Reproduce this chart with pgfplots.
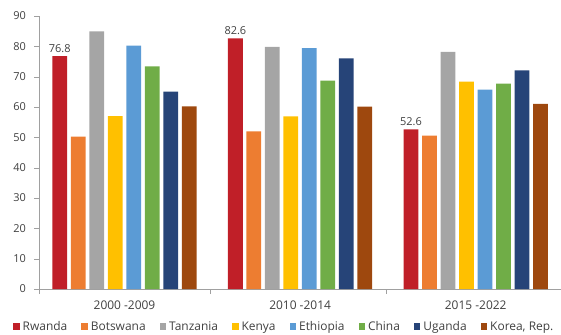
\documentclass[border=0pt]{standalone}
\usepackage{pgfplots}
\pgfplotsset{compat=1.18}
\usepackage{fontspec}
\setmainfont{Open Sans}
\definecolor{cRw}{HTML}{C01F28}
\definecolor{cBo}{HTML}{ED7D31}
\definecolor{cTa}{HTML}{A5A5A5}
\definecolor{cKe}{HTML}{FFC000}
\definecolor{cEt}{HTML}{5B9BD5}
\definecolor{cCh}{HTML}{70AD47}
\definecolor{cUg}{HTML}{264478}
\definecolor{cKo}{HTML}{9E480E}
\definecolor{txt}{HTML}{404040}
\definecolor{axg}{HTML}{A0A0A0}
\begin{document}
\begin{tikzpicture}[x=1bp,y=1bp]
\begin{axis}[
  at={(39.5bp,45bp)}, anchor=south west,
  scale only axis, width=524bp, height=273bp,
  xmin=-0.484, xmax=2.5, ymin=0, ymax=90,
  axis lines*=left,
  axis line style={draw=axg},
  ybar, bar width=0.084,
  ytick={0,10,...,90},
  xtick={0,1,2},
  xticklabels={2000 -2009,2010 -2014,2015 -2022},
  /pgf/number format/assume math mode=true,
  tick align=outside,
  major tick length=5bp,
  major x tick style={draw=none},
  y tick style={draw=axg},
  extra x ticks={-0.484,0.49,1.49},
  extra x tick labels={},
  extra x tick style={major x tick style={draw=axg}},
  yticklabel style={xshift=-5bp, font=\fontsize{11}{13}\selectfont, text=txt},
  xticklabel style={yshift=-3.5bp, font=\fontsize{12}{14}\selectfont, text=txt},
  legend columns=8,
  legend style={at={(0,0)}, anchor=north west, xshift=-26.5bp, yshift=-31bp,
    draw=none, fill=none, inner sep=0pt,
    font=\fontsize{12}{14}\selectfont, text=txt,
    nodes={inner sep=1bp},
    /tikz/every odd column/.append style={column sep=2bp},
    /tikz/every even column/.append style={column sep=13bp}},
  legend image code/.code={\fill[#1] (0bp,-3.5bp) rectangle (6.5bp,3.5bp);},
  every axis plot/.append style={draw=none},
]
\addplot[fill=cRw, bar shift=-0.3686,
  nodes near coords={\pgfmathprintnumber[fixed,fixed zerofill,precision=1]{\pgfplotspointmeta}},
  nodes near coords style={font=\fontsize{11}{13}\selectfont, text=txt}]
  coordinates {(0,76.8) (1,82.6) (2,52.6)};
\addplot[fill=cBo, bar shift=-0.2633] coordinates {(0,50.2) (1,52.0) (2,50.6)};
\addplot[fill=cTa, bar shift=-0.1580] coordinates {(0,84.9) (1,79.8) (2,78.2)};
\addplot[fill=cKe, bar shift=-0.0527] coordinates {(0,57.0) (1,56.9) (2,68.4)};
\addplot[fill=cEt, bar shift=0.0527] coordinates {(0,80.2) (1,79.4) (2,65.7)};
\addplot[fill=cCh, bar shift=0.1580] coordinates {(0,73.4) (1,68.7) (2,67.7)};
\addplot[fill=cUg, bar shift=0.2633] coordinates {(0,65.1) (1,76.0) (2,72.1)};
\addplot[fill=cKo, bar shift=0.3686] coordinates {(0,60.2) (1,60.1) (2,61.0)};
\legend{Rwanda,Botswana,Tanzania,Kenya,Ethiopia,China,Uganda,{Korea, Rep.}}
\end{axis}
\pgfresetboundingbox
\useasboundingbox (0,0) rectangle (561,334);
\end{tikzpicture}
\end{document}
